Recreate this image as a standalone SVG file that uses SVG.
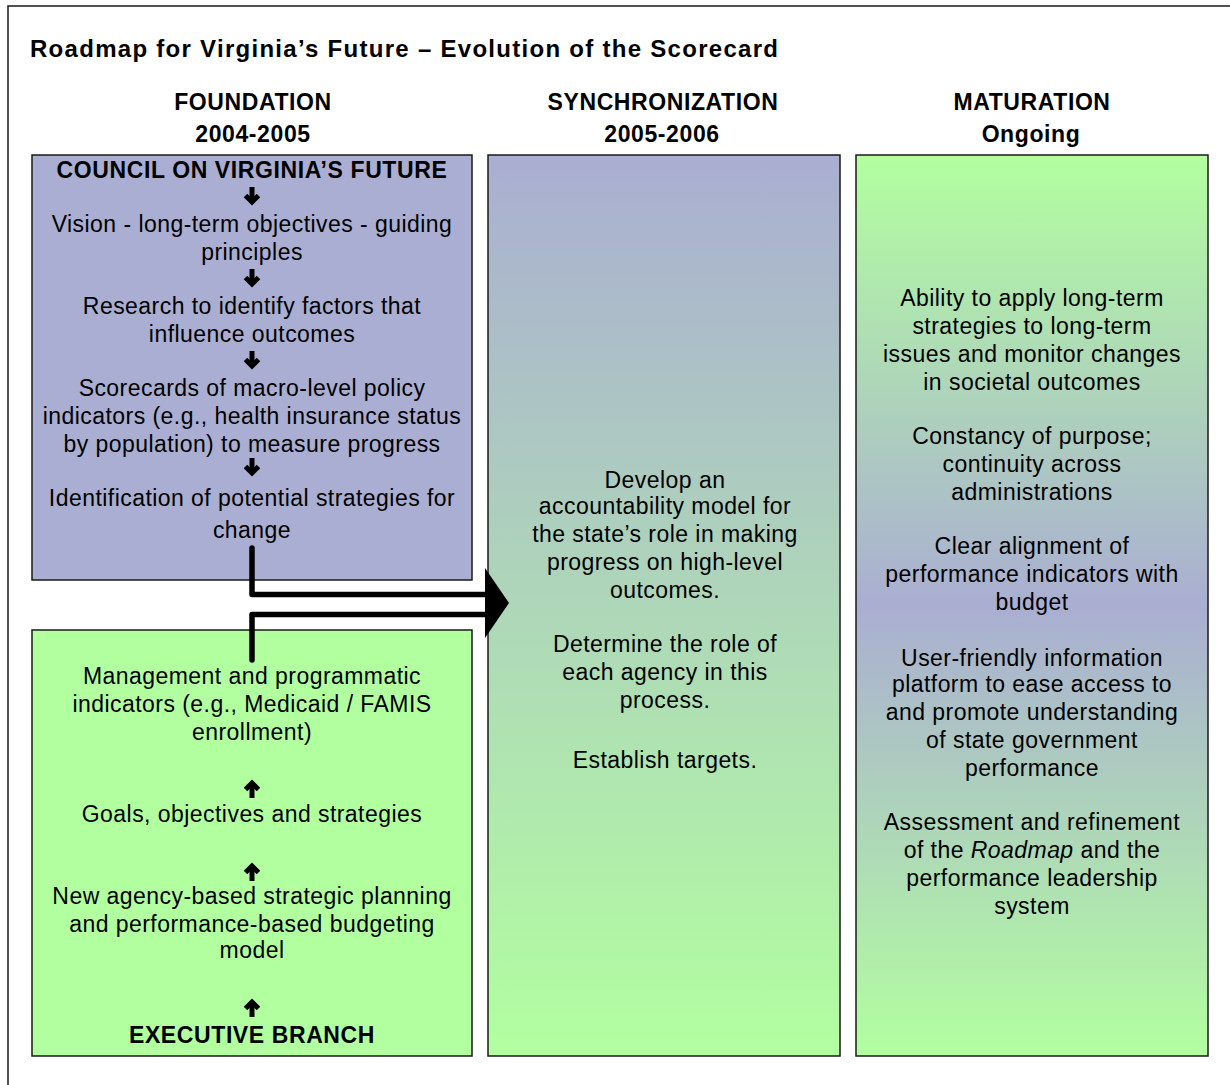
<svg xmlns="http://www.w3.org/2000/svg" width="1230" height="1085" viewBox="0 0 1230 1085">
<style>
text{font-family:"Liberation Sans",Arial,sans-serif;fill:#000;text-anchor:middle}
.t{font-size:23px;letter-spacing:0.45px}
.b{font-size:23px;font-weight:bold;letter-spacing:0.6px}
.title{font-size:24px;font-weight:bold;text-anchor:start}
.box{stroke:#1a1a1a;stroke-width:1.5}
.arr{fill:none;stroke:#000;stroke-width:5;stroke-linejoin:miter}
.conn{fill:none;stroke:#000;stroke-width:5.5;stroke-linecap:round;stroke-linejoin:round}
</style>
<defs>
<linearGradient id="gMid" x1="0" y1="0" x2="0" y2="1">
<stop offset="0" stop-color="#AAAED2"/>
<stop offset="1" stop-color="#B2FF9F"/>
</linearGradient>
<linearGradient id="gRight" x1="0" y1="0" x2="0" y2="1">
<stop offset="0" stop-color="#B2FF9F"/>
<stop offset="0.5" stop-color="#AAAED2"/>
<stop offset="1" stop-color="#B2FF9F"/>
</linearGradient>
<g id="down"><path class="arr" d="M0,-9V6"/><path class="arr" d="M-6.5,-0.5L0,6L6.5,-0.5"/></g>
<g id="up"><path class="arr" d="M0,9V-6"/><path class="arr" d="M-6.5,0.5L0,-6L6.5,0.5"/></g>
</defs>
<rect x="0" y="0" width="1230" height="1085" fill="#fff"/>
<rect x="8" y="6" width="1240" height="1100" fill="none" stroke="#1a1a1a" stroke-width="1.5"/>
<text class="title" x="30" y="57" textLength="748" lengthAdjust="spacing">Roadmap for Virginia’s Future – Evolution of the Scorecard</text>
<g id="headers">
<text class="b" x="253" y="110">FOUNDATION</text>
<text class="b" x="253" y="142">2004-2005</text>
<text class="b" x="663" y="110">SYNCHRONIZATION</text>
<text class="b" x="662" y="142">2005-2006</text>
<text class="b" x="1032" y="110">MATURATION</text>
<text class="b" x="1031" y="142">Ongoing</text>
</g>
<g id="council">
<rect class="box" x="32" y="155" width="440" height="425" fill="#AAAED2"/>
<text class="b" x="252" y="178">COUNCIL ON VIRGINIA’S FUTURE</text>
<use href="#down" x="252" y="196"/>
<text class="t" x="252" y="232">Vision - long-term objectives - guiding</text>
<text class="t" x="252" y="260">principles</text>
<use href="#down" x="252" y="278"/>
<text class="t" x="252" y="314">Research to identify factors that</text>
<text class="t" x="252" y="342">influence outcomes</text>
<use href="#down" x="252" y="360"/>
<text class="t" x="252" y="396">Scorecards of macro-level policy</text>
<text class="t" x="252" y="424">indicators (e.g., health insurance status</text>
<text class="t" x="252" y="452">by population) to measure progress</text>
<use href="#down" x="252" y="467"/>
<text class="t" x="252" y="506">Identification of potential strategies for</text>
<text class="t" x="252" y="538">change</text>
</g>
<g id="executive">
<rect class="box" x="32" y="630" width="440" height="426" fill="#B2FF9F"/>
<text class="t" x="252" y="684">Management and programmatic</text>
<text class="t" x="252" y="712">indicators (e.g., Medicaid / FAMIS</text>
<text class="t" x="252" y="740">enrollment)</text>
<use href="#up" x="252" y="789"/>
<text class="t" x="252" y="822">Goals, objectives and strategies</text>
<use href="#up" x="252" y="872"/>
<text class="t" x="252" y="904">New agency-based strategic planning</text>
<text class="t" x="252" y="932">and performance-based budgeting</text>
<text class="t" x="252" y="958">model</text>
<use href="#up" x="252" y="1008"/>
<text class="b" x="252" y="1043">EXECUTIVE BRANCH</text>
</g>
<g id="synchronization">
<rect class="box" x="488" y="155" width="352" height="901" fill="url(#gMid)"/>
<text class="t" x="665" y="488">Develop an</text>
<text class="t" x="665" y="514">accountability model for</text>
<text class="t" x="665" y="542">the state’s role in making</text>
<text class="t" x="665" y="570">progress on high-level</text>
<text class="t" x="665" y="598">outcomes.</text>
<text class="t" x="665" y="652">Determine the role of</text>
<text class="t" x="665" y="680">each agency in this</text>
<text class="t" x="665" y="708">process.</text>
<text class="t" x="665" y="768">Establish targets.</text>
</g>
<g id="maturation">
<rect class="box" x="856" y="155" width="352" height="901" fill="url(#gRight)"/>
<text class="t" x="1032" y="306">Ability to apply long-term</text>
<text class="t" x="1032" y="334">strategies to long-term</text>
<text class="t" x="1032" y="362">issues and monitor changes</text>
<text class="t" x="1032" y="390">in societal outcomes</text>
<text class="t" x="1032" y="444">Constancy of purpose;</text>
<text class="t" x="1032" y="472">continuity across</text>
<text class="t" x="1032" y="500">administrations</text>
<text class="t" x="1032" y="554">Clear alignment of</text>
<text class="t" x="1032" y="582">performance indicators with</text>
<text class="t" x="1032" y="610">budget</text>
<text class="t" x="1032" y="666">User-friendly information</text>
<text class="t" x="1032" y="692">platform to ease access to</text>
<text class="t" x="1032" y="720">and promote understanding</text>
<text class="t" x="1032" y="748">of state government</text>
<text class="t" x="1032" y="776">performance</text>
<text class="t" x="1032" y="830">Assessment and refinement</text>
<text class="t" x="1032" y="858">of the <tspan font-style="italic">Roadmap</tspan> and the</text>
<text class="t" x="1032" y="886">performance leadership</text>
<text class="t" x="1032" y="914">system</text>
</g>
<g id="connectors">
<path class="conn" d="M252,548V594.5H487"/>
<path class="conn" d="M252,660V614.5H487"/>
<polygon points="485,568 509,603 485,638" fill="#000"/>
</g>
</svg>
